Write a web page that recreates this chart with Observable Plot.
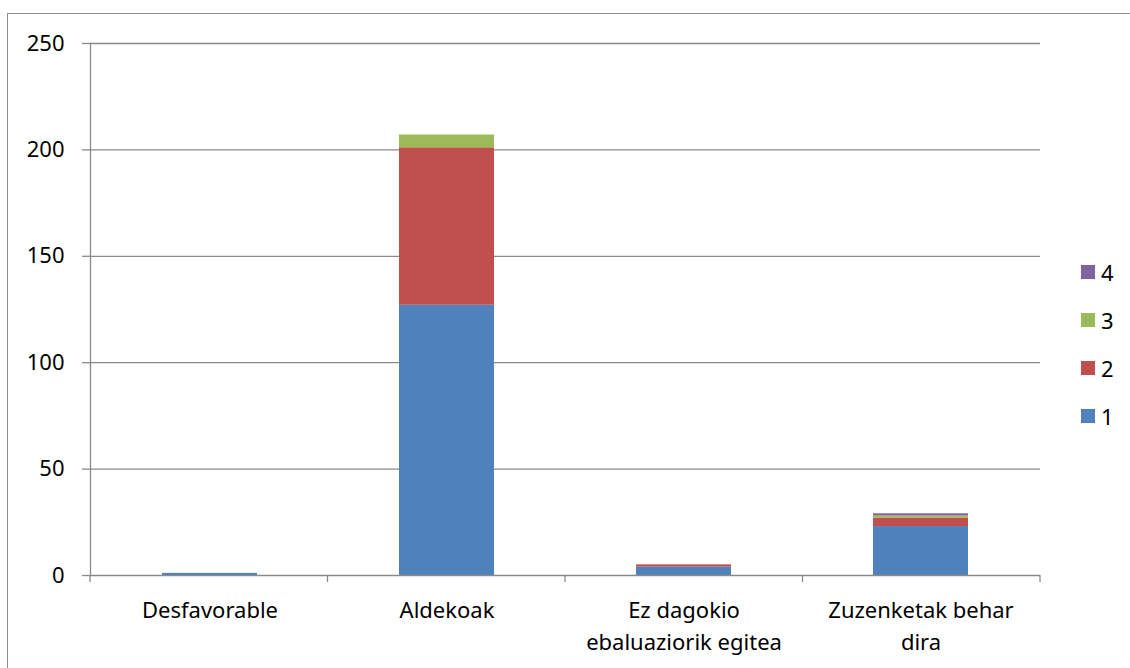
<!DOCTYPE html>
<html>
<head>
<meta charset="utf-8">
<script src="https://cdn.jsdelivr.net/npm/d3@7"></script>
<script src="https://cdn.jsdelivr.net/npm/@observablehq/plot@0.6"></script>
<style>
  html, body { margin: 0; padding: 0; background: #fff; overflow: hidden; }
  #wrap { position: relative; width: 1130px; height: 668px; font-family: "Noto Sans", sans-serif; }
  #border { position: absolute; left: 7px; top: 13px; width: 1300px; height: 900px; border: 1.5px solid #8c8c8c; box-sizing: border-box; }
  #chart { position: absolute; left: 0; top: 0; }
  #legend { position: absolute; left: 1081px; top: 248px; font-size: 22px; color: #000; }
  .item { display: flex; align-items: center; height: 48px; }
  .sw { width: 14px; height: 14px; margin-right: 6px; }
</style>
</head>
<body>
<div id="wrap">
  <div id="border"></div>
  <div id="chart"></div>
  <div id="legend"></div>
</div>
<script>
const categories = ["Desfavorable", "Aldekoak", "Ez dagokio ebaluaziorik egitea", "Zuzenketak behar dira"];
const categoryLabels = ["Desfavorable", "Aldekoak", "Ez dagokio\nebaluaziorik egitea", "Zuzenketak behar\ndira"];
const seriesNames = ["1", "2", "3", "4"];
const series1 = [1, 127, 4, 23];
const series2 = [0, 74, 1, 4];
const series3 = [0, 6, 0, 1];
const series4 = [0, 0, 0, 1];
const colors = ["#4f81bd", "#c0504d", "#9bbb59", "#8064a2"];
const yTicks = [0, 50, 100, 150, 200, 250];

const allSeries = [series1, series2, series3, series4];
const rows = [];
seriesNames.forEach((s, si) => {
  categories.forEach((c, ci) => {
    rows.push({category: c, series: s, value: allSeries[si][ci]});
  });
});
const labelOf = new Map(categories.map((c, i) => [c, categoryLabels[i]]));

const plot = Plot.plot({
  width: 1130,
  height: 668,
  marginLeft: 90,
  marginRight: 90,
  marginTop: 43,
  marginBottom: 93,
  style: {fontFamily: "Noto Sans, sans-serif", fontSize: "22px", color: "#000", background: "transparent"},
  x: {domain: categories, paddingInner: 0.6, paddingOuter: 0.3, label: null},
  y: {domain: [0, 250], label: null},
  color: {domain: seriesNames, range: colors},
  marks: [
    Plot.ruleY(yTicks.filter(d => d > 0), {stroke: "#8a8a8a", strokeWidth: 1.3}),
    Plot.axisY({ticks: yTicks, tickSize: 8, tickPadding: 18, stroke: "#8a8a8a", strokeWidth: 1.3, fill: "#000", label: null, fontSize: 22}),
    Plot.barY(rows, {x: "category", y: "value", fill: "series", order: seriesNames}),
    Plot.ruleY([0], {stroke: "#8a8a8a", strokeWidth: 1.5}),
    Plot.frame({anchor: "left", stroke: "#8a8a8a", strokeWidth: 1.3}),
    Plot.axisX({tickSize: 0, tickPadding: 20, tickFormat: d => labelOf.get(d), lineHeight: 1.45, fill: "#000", label: null, fontSize: 22})
  ]
});
document.getElementById("chart").appendChild(plot);

// Category boundary ticks below the x axis, from the band scale
const xs = plot.scale("x");
const ys = plot.scale("y");
const xScale = d3.scaleBand().domain(xs.domain).range(xs.range).paddingInner(xs.paddingInner).paddingOuter(xs.paddingOuter);
const step = xScale.step();
const y0 = ys.apply(0);
const bounds = categories.map(c => xScale(c) + xScale.bandwidth() / 2 - step / 2);
bounds.push(xScale(categories[categories.length - 1]) + xScale.bandwidth() / 2 + step / 2);
d3.select(plot).append("g")
  .selectAll("line").data(bounds).join("line")
  .attr("x1", d => d).attr("x2", d => d)
  .attr("y1", y0).attr("y2", y0 + 7)
  .attr("stroke", "#8a8a8a").attr("stroke-width", 1.3);

// Legend (reverse order, top = 4)
const legend = d3.select("#legend");
seriesNames.slice().reverse().forEach(s => {
  const item = legend.append("div").attr("class", "item");
  item.append("div").attr("class", "sw").style("background", colors[seriesNames.indexOf(s)]);
  item.append("span").text(s);
});
</script>
</body>
</html>
